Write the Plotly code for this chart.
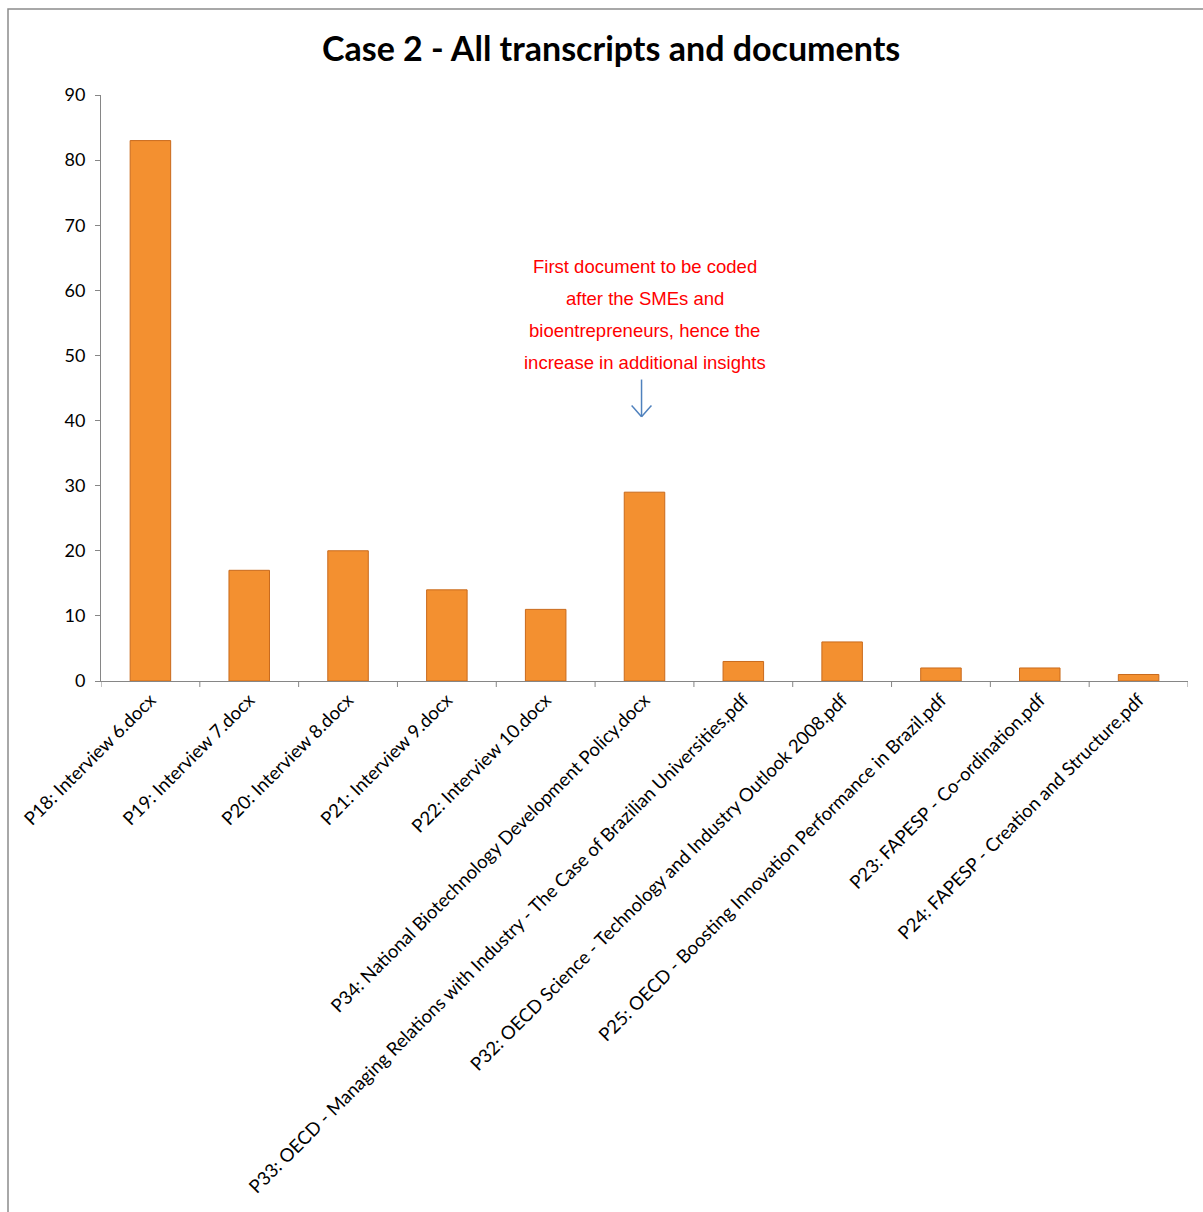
import plotly.graph_objects as go

# Codes per document, Case 2
documents = [
    "P18: Interview 6.docx",
    "P19: Interview 7.docx",
    "P20: Interview 8.docx",
    "P21: Interview 9.docx",
    "P22: Interview 10.docx",
    "P34: National Biotechnology Development Policy.docx",
    "P33: OECD - Managing Relations with Industry - The Case of Brazilian Universities.pdf",
    "P32: OECD Science - Technology and Industry Outlook 2008.pdf",
    "P25: OECD - Boosting Innovation Performance in Brazil.pdf",
    "P23: FAPESP - Co-ordination.pdf",
    "P24: FAPESP - Creation and Structure.pdf",
]
codes = [83, 17, 20, 14, 11, 29, 3, 6, 2, 2, 1]
y_ticks = [0, 10, 20, 30, 40, 50, 60, 70, 80, 90]

note_lines = [
    "First document to be coded",
    "after the SMEs and",
    "bioentrepreneurs, hence the",
    "increase in additional insights",
]

W, H = 1203, 1212
ML, MR, MT, MB = 101, 15, 95, 531
PW, PH = W - ML - MR, H - MT - MB


def px_to_paper(px, py):
    return (px - ML) / PW, 1 - (py - MT) / PH


fig = go.Figure()
fig.add_trace(go.Bar(
    x=list(range(len(documents))),
    y=codes,
    width=0.41,
    marker=dict(color="#F39030", line=dict(color="#C96A1C", width=1)),
    hoverinfo="x+y",
))

axis_gray = "#868686"
fig.update_layout(
    width=W, height=H,
    margin=dict(l=ML, r=MR, t=MT, b=MB),
    paper_bgcolor="white", plot_bgcolor="white",
    showlegend=False,
    font=dict(family="Lato, Carlito, sans-serif", color="black"),
    title=dict(
        text="<b>Case 2 - All transcripts and documents</b>",
        x=0.508, xanchor="center", y=1 - 49 / H, yanchor="middle",
        font=dict(size=34, family="Lato, Carlito, sans-serif", color="black"),
    ),
    xaxis=dict(
        range=[-0.5, len(documents) - 0.5],
        tickmode="array",
        tickvals=list(range(len(documents))),
        ticktext=documents,
        tickangle=-45,
        tickfont=dict(size=18.5),
        showgrid=False, zeroline=False,
        showline=True, linecolor=axis_gray, linewidth=1,
        ticks="",
    ),
    yaxis=dict(
        range=[0, 90],
        tickvals=y_ticks,
        tickfont=dict(size=18),
        showgrid=False, zeroline=False,
        showline=True, linecolor=axis_gray, linewidth=1,
        ticks="outside", ticklen=5, tickcolor=axis_gray,
        ticklabelstandoff=6,
    ),
    bargap=0.59,
)

# category boundary ticks on the x axis
for i in range(len(documents) + 1):
    fig.add_shape(type="line", xref="x", yref="paper",
                  x0=i - 0.5, x1=i - 0.5, y0=0, y1=-6 / PH,
                  line=dict(color=axis_gray, width=1))

# chart border
bx0, by0 = px_to_paper(8, 9)
bx1, by1 = px_to_paper(1210, 1220)
fig.add_shape(type="rect", xref="paper", yref="paper",
              x0=bx0, y0=by1, x1=bx1, y1=by0,
              line=dict(color="#8C8C8C", width=1.5), layer="below")

# note about P34
note_x = 5.0
for k, line in enumerate(note_lines):
    fig.add_annotation(
        x=note_x, xref="x", y=px_to_paper(0, 266 + 32 * k)[1], yref="paper",
        yanchor="middle", xanchor="center",
        text=line, showarrow=False,
        font=dict(family="Liberation Sans, Arial, sans-serif", size=18.5, color="#FF0000"),
    )

arrow_col = "#4F81BD"
arrow_x = 4.97
fig.add_shape(type="line", xref="x", yref="y", x0=arrow_x, x1=arrow_x,
              y0=46.3, y1=40.6, line=dict(color=arrow_col, width=1.5))
fig.add_shape(type="line", xref="x", yref="y", x0=arrow_x - 0.1, x1=arrow_x,
              y0=42.3, y1=40.6, line=dict(color=arrow_col, width=1.5))
fig.add_shape(type="line", xref="x", yref="y", x0=arrow_x + 0.1, x1=arrow_x,
              y0=42.3, y1=40.6, line=dict(color=arrow_col, width=1.5))

fig.write_html("out.html")
